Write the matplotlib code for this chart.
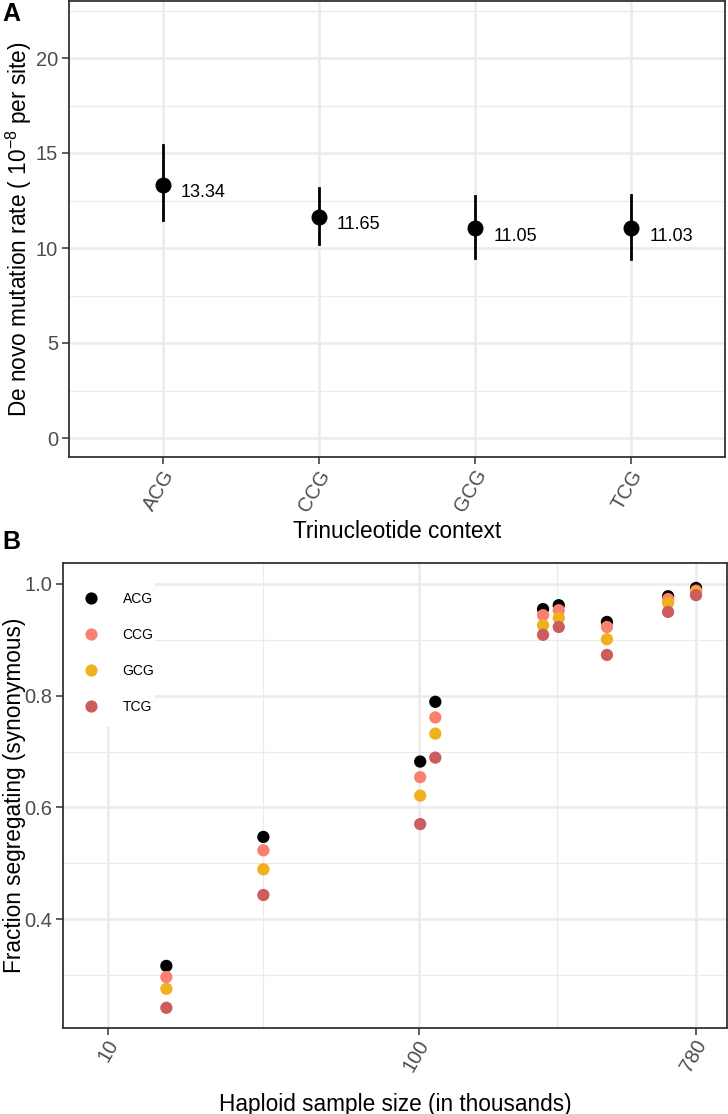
#!/usr/bin/env python3

import matplotlib
matplotlib.use("Agg")
import matplotlib.pyplot as plt
import matplotlib.transforms as mtransforms
from matplotlib.ticker import FixedLocator, NullFormatter
from matplotlib.lines import Line2D
from matplotlib.patches import Rectangle

plt.rcParams['font.family'] = ['Liberation Sans', 'DejaVu Sans']
plt.rcParams['mathtext.fontset'] = 'custom'
plt.rcParams['mathtext.rm'] = 'Liberation Sans'
plt.rcParams['mathtext.it'] = 'Liberation Sans:italic'
plt.rcParams['mathtext.bf'] = 'Liberation Sans:bold'

# panel A: de novo rate per trinucleotide context
contexts = ["ACG", "CCG", "GCG", "TCG"]
rate = [13.34, 11.65, 11.05, 11.03]
rate_lo = [11.47, 10.21, 9.47, 9.42]
rate_hi = [15.40, 13.16, 12.74, 12.79]

# panel B: fraction segregating vs haploid sample size (thousands)
sample_k = [15.4, 31.6, 101, 113, 251, 282, 403, 634, 780]
frac_acg = [0.316, 0.547, 0.682, 0.789, 0.955, 0.962, 0.932, 0.978, 0.993]
frac_ccg = [0.296, 0.523, 0.654, 0.761, 0.944, 0.953, 0.923, 0.973, 0.988]
frac_gcg = [0.275, 0.489, 0.621, 0.732, 0.926, 0.939, 0.901, 0.966, 0.985]
frac_tcg = [0.241, 0.443, 0.570, 0.689, 0.909, 0.923, 0.873, 0.950, 0.980]
x_breaks = [10, 100, 780]

colors = {"ACG": "black", "CCG": "#FA8072", "GCG": "#EFB21E", "TCG": "#CD5C5C"}

W, H = 728, 1114
fig = plt.figure(figsize=(W / 100, H / 100), dpi=100)

TITLE_SIZE = 16.3


def px_axes(left, top, right, bottom):
    return fig.add_axes([left / W, 1 - bottom / H, (right - left) / W, (bottom - top) / H])


def style_axes(ax):
    for s in ax.spines.values():
        s.set_color("#333333")
        s.set_linewidth(1.3)
    ax.tick_params(axis="both", which="major", length=5, width=1.1, color="#333333",
                   labelcolor="#4D4D4D", labelsize=14.5, pad=3)
    ax.tick_params(axis="both", which="minor", length=0)
    ax.grid(True, which="major", color="#EBEBEB", linewidth=1.8)
    ax.grid(True, which="minor", color="#EBEBEB", linewidth=0.9)
    ax.set_axisbelow(True)


def nudge_xticklabels(ax, dx_px, dy_px):
    # small shift of rotated tick labels, like ggplot's hjust/vjust
    offset = mtransforms.ScaledTranslation(dx_px / 100, dy_px / 100, fig.dpi_scale_trans)
    for lab in ax.get_xticklabels():
        lab.set_transform(lab.get_transform() + offset)


# ---- Panel A ----
axA = px_axes(69, 1, 725, 457)
style_axes(axA)
xpos = list(range(1, len(contexts) + 1))
for i, c in enumerate(contexts):
    axA.plot([xpos[i], xpos[i]], [rate_lo[i], rate_hi[i]], color="black", lw=2.0, zorder=3)
axA.plot(xpos, rate, "o", color="black", markersize=10.5, zorder=4)
for i, v in enumerate(rate):
    axA.annotate(f"{v:.2f}", (xpos[i], v), xytext=(13, -6), textcoords="offset points",
                 ha="left", va="center", fontsize=13, color="black")
axA.set_xlim(0.4, 4.6)
axA.set_ylim(-1.0, 23.0)
axA.set_xticks(xpos)
axA.set_xticklabels(contexts, rotation=60, ha="right", va="center", rotation_mode="anchor")
nudge_xticklabels(axA, 7, -3)
axA.yaxis.set_major_locator(FixedLocator([0, 5, 10, 15, 20]))
axA.yaxis.set_minor_locator(FixedLocator([2.5, 7.5, 12.5, 17.5, 22.5]))
axA.set_xlabel("Trinucleotide context", fontsize=TITLE_SIZE, labelpad=3)
axA.set_ylabel("De novo mutation rate ( $10^{-8}$ per site)", fontsize=TITLE_SIZE)
axA.yaxis.set_label_coords((34 - 69) / 656, 0.5)
fig.text(2 / W, 1 - 14 / H, "A", fontsize=18, fontweight="bold", va="center", ha="left")

# ---- Panel B ----
axB = px_axes(63, 563, 727, 1028)
style_axes(axB)
axB.set_xscale("log")
series = [("ACG", frac_acg), ("CCG", frac_ccg), ("GCG", frac_gcg), ("TCG", frac_tcg)]
for name, vals in series:
    axB.scatter(sample_k, vals, s=78, color=colors[name], edgecolors="none", zorder=3)
axB.set_xlim(7.16, 981)
axB.set_ylim(0.2048, 1.0376)
axB.xaxis.set_major_locator(FixedLocator(x_breaks))
axB.xaxis.set_minor_locator(FixedLocator([10 ** 1.5, 10 ** 2.446]))
axB.xaxis.set_minor_formatter(NullFormatter())
axB.set_xticklabels([str(b) for b in x_breaks], rotation=60, ha="right", va="center",
                    rotation_mode="anchor")
nudge_xticklabels(axB, 6, -2)
axB.yaxis.set_major_locator(FixedLocator([0.4, 0.6, 0.8, 1.0]))
axB.yaxis.set_minor_locator(FixedLocator([0.3, 0.5, 0.7, 0.9]))
axB.set_yticklabels(["0.4", "0.6", "0.8", "1.0"])
axB.set_xlabel("Haploid sample size (in thousands)", fontsize=TITLE_SIZE, labelpad=13)
axB.set_ylabel("Fraction segregating (synonymous)", fontsize=TITLE_SIZE)
axB.yaxis.set_label_coords((26 - 63) / 664, 0.5)

# white legend background inside the panel, covering the grid
axB.add_patch(Rectangle(((63 - 63) / 664, (1028 - 727) / 465), (155 - 63) / 664,
                        (727 - 563) / 465, transform=axB.transAxes, facecolor="white",
                        edgecolor="none", zorder=2))
handles = [Line2D([], [], marker="o", linestyle="none", markersize=8.8,
                  markerfacecolor=colors[n], markeredgecolor="none") for n, _ in series]
leg = axB.legend(handles, [n for n, _ in series], loc="upper left",
                 bbox_to_anchor=(0.0, 1 - 12 / 465), borderaxespad=0.0, frameon=False,
                 fontsize=10, handlelength=1.6, handletextpad=1.5, labelspacing=1.6,
                 borderpad=1.2)
fig.text(2 / W, 1 - 542 / H, "B", fontsize=18, fontweight="bold", va="center", ha="left")

fig.savefig("out.png", dpi=100)
